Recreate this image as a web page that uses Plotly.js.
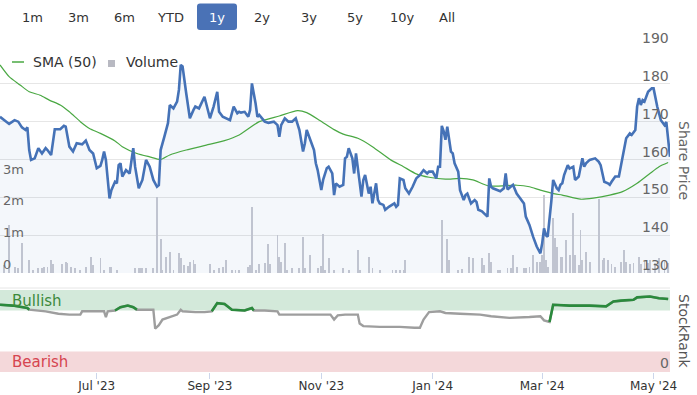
<!DOCTYPE html>
<html>
<head>
<meta charset="utf-8">
<script src="https://cdn.plot.ly/plotly-3.0.1.min.js"></script>
<style>
html,body{margin:0;padding:0;background:#fff;}
#chart{width:697px;height:395px;}
</style>
</head>
<body>
<div id="chart"></div>
<script>
// ---------- DATA ----------
const priceDates = [
"2023-05-09","2023-05-12","2023-05-14","2023-05-17","2023-05-19","2023-05-21","2023-05-23","2023-05-24","2023-05-25","2023-05-26","2023-05-28","2023-05-30",
"2023-06-01","2023-06-03","2023-06-04","2023-06-06","2023-06-08","2023-06-11","2023-06-13","2023-06-14","2023-06-16","2023-06-18","2023-06-20","2023-06-23","2023-06-25","2023-06-27","2023-06-29",
"2023-07-01","2023-07-03","2023-07-04","2023-07-05","2023-07-06","2023-07-08","2023-07-09","2023-07-10","2023-07-11","2023-07-12","2023-07-13","2023-07-14","2023-07-15","2023-07-17","2023-07-19","2023-07-21","2023-07-22","2023-07-24","2023-07-25","2023-07-26","2023-07-28","2023-07-30",
"2023-08-01","2023-08-03","2023-08-04","2023-08-05","2023-08-07","2023-08-09","2023-08-10","2023-08-12","2023-08-14","2023-08-15","2023-08-16","2023-08-17","2023-08-19","2023-08-21","2023-08-23","2023-08-24","2023-08-26","2023-08-28","2023-08-29",
"2023-09-01","2023-09-03","2023-09-05","2023-09-06","2023-09-08","2023-09-10","2023-09-12","2023-09-14","2023-09-16","2023-09-17","2023-09-18","2023-09-20","2023-09-22","2023-09-23","2023-09-24","2023-09-26","2023-09-27","2023-09-28","2023-09-30",
"2023-10-01","2023-10-03","2023-10-06","2023-10-08","2023-10-09","2023-10-10","2023-10-12","2023-10-14","2023-10-16","2023-10-18","2023-10-20","2023-10-22","2023-10-23","2023-10-24","2023-10-26","2023-10-28","2023-10-29","2023-10-30",
"2023-11-01","2023-11-02","2023-11-04","2023-11-05","2023-11-07","2023-11-08","2023-11-09","2023-11-11","2023-11-13","2023-11-14","2023-11-15","2023-11-16","2023-11-18","2023-11-19","2023-11-20","2023-11-22","2023-11-23","2023-11-24","2023-11-25","2023-11-27","2023-11-28","2023-11-29","2023-11-30",
"2023-12-01","2023-12-02","2023-12-03","2023-12-05","2023-12-06","2023-12-08","2023-12-10","2023-12-11","2023-12-12","2023-12-13","2023-12-14","2023-12-16","2023-12-17","2023-12-19","2023-12-21","2023-12-23","2023-12-25","2023-12-27","2023-12-29","2023-12-30",
"2024-01-01","2024-01-03","2024-01-04","2024-01-05","2024-01-06","2024-01-07","2024-01-08","2024-01-09","2024-01-11","2024-01-12","2024-01-13","2024-01-15","2024-01-16","2024-01-18","2024-01-19","2024-01-20","2024-01-22","2024-01-24","2024-01-25","2024-01-26","2024-01-28","2024-01-30","2024-01-31",
"2024-02-01","2024-02-02","2024-02-03","2024-02-05","2024-02-07","2024-02-09","2024-02-10","2024-02-11","2024-02-13","2024-02-14","2024-02-16","2024-02-18","2024-02-20","2024-02-21","2024-02-23","2024-02-25","2024-02-27","2024-02-29",
"2024-03-01","2024-03-02","2024-03-03","2024-03-04","2024-03-05","2024-03-06","2024-03-07","2024-03-09","2024-03-10","2024-03-11","2024-03-12","2024-03-13","2024-03-15","2024-03-16","2024-03-18","2024-03-19","2024-03-21","2024-03-22","2024-03-23","2024-03-24","2024-03-25","2024-03-27","2024-03-30",
"2024-04-01","2024-04-02","2024-04-03","2024-04-04","2024-04-06","2024-04-07","2024-04-08","2024-04-10","2024-04-12","2024-04-13","2024-04-14","2024-04-15","2024-04-16","2024-04-18","2024-04-19","2024-04-21","2024-04-22","2024-04-23","2024-04-24","2024-04-25","2024-04-26","2024-04-28","2024-04-30",
"2024-05-01","2024-05-02","2024-05-03","2024-05-05","2024-05-07","2024-05-08","2024-05-09","2024-05-10"
];
const priceClose = [
171.3,170.0,169.4,170.4,170.0,168.5,167.8,168.5,162.5,159.9,160.3,163.0,
161.6,163.0,162.5,161.2,168.0,168.0,168.9,168.7,163.4,162.1,164.3,164.0,165.0,162.5,161.6,
157.7,158.3,159.9,162.1,159.9,149.7,151.9,152.8,154.1,153.7,158.5,159.0,155.5,157.2,156.3,163.0,158.1,152.4,153.7,154.6,159.9,158.1,
154.6,152.8,153.2,162.5,166.0,169.6,174.4,173.5,175.3,178.4,185.0,184.6,177.5,170.9,173.1,174.0,173.5,175.7,176.6,
170.9,174.0,177.9,172.6,171.3,170.9,170.4,174.0,172.2,172.6,172.4,172.6,171.3,173.1,180.1,174.8,171.3,171.8,170.4,
170.0,169.7,170.0,169.1,166.0,169.1,170.9,170.0,170.0,170.9,167.8,162.1,164.3,167.8,165.2,162.5,159.0,157.2,
151.9,154.6,157.7,158.1,156.3,150.6,153.7,152.8,153.3,160.3,160.7,163.0,160.3,156.3,161.6,153.7,150.2,154.6,155.9,151.0,152.8,148.4,151.0,
153.7,149.3,148.4,148.0,146.7,147.5,148.0,148.4,147.5,148.0,155.0,154.6,152.4,151.0,152.8,155.0,155.9,157.2,156.3,156.8,
156.8,155.0,158.1,158.1,168.9,167.5,165.2,168.7,162.1,161.6,159.0,156.8,151.9,149.3,150.6,151.0,148.4,149.3,148.8,146.7,146.3,145.3,144.9,
155.0,152.8,152.4,152.0,151.6,152.4,156.3,152.1,152.8,153.3,151.0,149.7,148.4,144.9,142.7,139.6,137.0,135.2,
137.9,141.8,140.0,139.6,144.0,149.0,154.6,152.4,151.9,153.3,153.7,155.9,158.5,157.6,158.1,154.6,155.5,157.7,160.3,158.1,159.0,159.9,160.3,
159.4,158.5,156.3,154.1,153.7,153.3,154.1,155.5,155.5,158.1,159.9,162.5,165.6,166.9,166.5,167.8,174.0,176.2,174.4,175.7,175.3,177.9,178.8,
178.8,176.2,174.0,170.4,169.1,169.9,165.2,160.7
];

const smaDates = [
"2023-05-09","2023-05-14","2023-05-20","2023-05-25","2023-05-31","2023-06-05","2023-06-11","2023-06-16","2023-06-22","2023-06-27",
"2023-07-03","2023-07-11","2023-07-15","2023-07-23","2023-07-30","2023-08-05","2023-08-10","2023-08-19","2023-08-30","2023-09-09",
"2023-09-17","2023-09-28","2023-10-09","2023-10-19","2023-10-24","2023-10-31","2023-11-08","2023-11-13","2023-11-21","2023-11-29",
"2023-12-09","2023-12-16","2023-12-23","2023-12-30","2024-01-08","2024-01-16","2024-01-23","2024-02-01","2024-02-16","2024-02-23",
"2024-02-29","2024-03-08","2024-03-12","2024-03-22","2024-03-29","2024-04-07","2024-04-14","2024-04-22","2024-04-29","2024-05-04","2024-05-09"
];
const smaValues = [
185.0,181.9,179.7,177.9,177.0,175.7,174.4,172.6,170.0,168.2,
166.9,164.9,163.4,161.6,160.7,160.0,161.2,162.5,163.8,165.0,
166.5,170.0,171.5,172.9,172.4,170.4,167.9,166.7,165.6,163.4,
159.9,158.1,156.2,155.3,154.8,155.0,154.6,153.0,153.2,152.8,
151.9,150.9,150.6,149.5,149.8,150.6,151.5,153.7,156.3,158.1,159.2
];

// volume in millions
const volDates = [
"2023-05-11","2023-05-14","2023-05-17","2023-05-19","2023-05-21","2023-05-25","2023-05-27","2023-05-30","2023-06-01","2023-06-02",
"2023-06-04","2023-06-06","2023-06-07","2023-06-12","2023-06-14","2023-06-15","2023-06-17","2023-06-19","2023-06-22","2023-06-25",
"2023-06-28","2023-06-29","2023-07-03","2023-07-05","2023-07-08","2023-07-09","2023-07-12","2023-07-22","2023-07-24","2023-07-25",
"2023-07-26","2023-07-28","2023-08-01","2023-08-03","2023-08-05","2023-08-06","2023-08-08","2023-08-10","2023-08-12","2023-08-15",
"2023-08-16","2023-08-18","2023-08-20","2023-08-21","2023-08-23","2023-08-24","2023-09-01","2023-09-03","2023-09-06","2023-09-08",
"2023-09-10","2023-09-13","2023-09-15","2023-09-17","2023-09-22","2023-09-23","2023-09-24","2023-09-26","2023-09-28","2023-10-01",
"2023-10-03","2023-10-04","2023-10-08","2023-10-09","2023-10-10","2023-10-12","2023-10-13","2023-10-16","2023-10-20","2023-10-22",
"2023-10-23","2023-10-26","2023-10-30","2023-11-01","2023-11-02","2023-11-03","2023-11-05","2023-11-08","2023-11-13","2023-11-16",
"2023-11-21","2023-11-22","2023-11-27","2023-11-29","2023-12-03","2023-12-10","2023-12-12","2023-12-14","2023-12-16","2023-12-17",
"2024-01-06","2024-01-09","2024-01-10","2024-01-15","2024-01-17","2024-01-21","2024-01-23","2024-01-28","2024-01-29","2024-02-01",
"2024-02-02","2024-02-06","2024-02-07","2024-02-11","2024-02-13","2024-02-14","2024-02-16","2024-02-20","2024-02-21","2024-02-23",
"2024-02-25","2024-02-27","2024-02-29","2024-03-01","2024-03-02","2024-03-03","2024-03-04","2024-03-07","2024-03-08","2024-03-09",
"2024-03-11","2024-03-12","2024-03-14","2024-03-16","2024-03-18","2024-03-19","2024-03-21","2024-03-22","2024-03-23","2024-03-25",
"2024-03-27","2024-04-01","2024-04-03","2024-04-04","2024-04-06","2024-04-08","2024-04-10","2024-04-13","2024-04-15","2024-04-16",
"2024-04-18","2024-04-20","2024-04-23","2024-04-24","2024-04-26","2024-04-28","2024-04-29","2024-05-02","2024-05-04","2024-05-07","2024-05-09"
];
const volValues = [
0.25,1.52,0.2,0.15,0.96,0.41,0.1,0.15,0.15,0.2,
0.2,0.41,0.3,0.3,0.36,0.33,0.2,0.15,0.1,0.2,
0.52,0.25,0.47,0.1,0.2,0.2,0.1,0.15,0.15,0.15,
0.15,0.15,0.15,2.42,1.07,0.1,0.52,0.68,0.1,0.62,
0.47,0.25,0.22,0.36,0.41,0.3,0.29,0.1,0.15,0.2,
0.41,0.1,0.1,0.1,0.2,0.25,2.1,0.1,0.3,0.33,
0.92,0.3,1.2,0.5,0.36,0.96,0.1,0.15,0.15,1.15,
0.15,0.57,0.15,0.22,1.24,0.1,0.47,0.1,0.15,0.1,
0.73,0.1,0.52,0.15,0.1,0.1,0.1,0.1,0.1,0.41,
1.68,1.08,0.41,0.1,0.12,0.52,0.47,0.47,0.25,0.62,
0.36,0.1,0.1,0.15,0.15,0.57,0.2,0.17,0.17,0.2,
0.57,0.36,0.36,0.57,2.47,0.41,0.2,1.74,1.1,0.84,
0.52,0.52,1.05,0.57,1.9,0.57,0.25,1.37,0.41,0.68,
0.36,2.34,0.41,0.47,0.41,0.3,0.2,0.36,0.73,0.36,
0.3,0.33,0.52,0.3,0.36,0.33,0.41,0.33,0.47,0.41,0.33
];

const rankDates = [
"2023-05-09","2023-05-16","2023-05-24","2023-05-25","2023-06-03","2023-06-10","2023-06-16","2023-06-22","2023-06-23","2023-06-30",
"2023-07-05","2023-07-06","2023-07-07","2023-07-11","2023-07-14","2023-07-18","2023-07-21","2023-07-23","2023-07-27","2023-08-01",
"2023-08-02","2023-08-04","2023-08-06","2023-08-10","2023-08-14","2023-08-16","2023-08-17","2023-08-24","2023-08-29","2023-09-02",
"2023-09-04","2023-09-05","2023-09-09","2023-09-11","2023-09-13","2023-09-20","2023-09-24","2023-09-25","2023-10-01","2023-10-08",
"2023-10-09","2023-10-20","2023-11-06","2023-11-08","2023-11-10","2023-11-14","2023-11-21","2023-11-22","2023-11-24","2023-12-03",
"2023-12-14","2023-12-22","2023-12-25","2023-12-27","2023-12-30","2024-01-05","2024-01-08","2024-01-16","2024-01-27","2024-02-02",
"2024-02-12","2024-02-23","2024-02-29","2024-03-02","2024-03-05","2024-03-07","2024-03-16","2024-03-27","2024-04-05","2024-04-09",
"2024-04-13","2024-04-20","2024-04-22","2024-04-29","2024-05-04","2024-05-09"
];
const rankValues = [
82,81,78,76,74,71,70,70,74,74,
74,67,74,75,79,81,79,76,76,76,
53,57,64,67,70,76,74,73,73,74,
81,84,83,80,76,75,78,75,75,74,
70,70,70,64,69,70,70,59,56,55,
55,54,54,64,73,74,72,71,70,68,
66,67,68,63,61,82,81,81,80,86,
87,88,91,92,90,89
];

const priceTicks = [130,140,150,160,170,180,190];
const volTicks = [0,1,2,3];
const volTickText = ["0","1m","2m","3m"];
const rankTicks = [0];
const rangeButtons = ["1m","3m","6m","YTD","1y","2y","3y","5y","10y","All"];
const activeRange = "1y";

// ---------- LAYOUT HELPERS (pixel -> paper) ----------
const PL = 0, PR = 670, PT = 46, PB = 372;
const X = px => (px - PL) / (PR - PL);
const Y = py => (PB - py) / (PB - PT);
const btnX = [32, 78, 124, 170, 217, 262, 309, 355, 402, 447];

const bullishCut = 77;
const rankGreen = rankValues.map((v, i) =>
  (v >= bullishCut || rankValues[i-1] >= bullishCut || rankValues[i+1] >= bullishCut) ? v : null);

const traces = [
  {type:"bar", x:volDates, y:volValues, xaxis:"x", yaxis:"y",
   width:86400000*1.0, marker:{color:"#c8c9d2", line:{width:0}}, hoverinfo:"skip"},
  {type:"scatter", mode:"lines", x:priceDates, y:priceClose, xaxis:"x", yaxis:"y2",
   line:{width:0, color:"rgba(0,0,0,0)"}, fill:"tozeroy", fillcolor:"rgba(70,116,185,0.06)", hoverinfo:"skip"},
  {type:"scatter", mode:"lines", x:smaDates, y:smaValues, xaxis:"x", yaxis:"y2",
   line:{width:1.2, color:"#4aa843", shape:"spline", smoothing:0.6}, hoverinfo:"skip"},
  {type:"scatter", mode:"lines", x:priceDates, y:priceClose, xaxis:"x", yaxis:"y2",
   line:{width:2.6, color:"#4572b7"}, hoverinfo:"skip"},
  {type:"scatter", mode:"lines", x:rankDates, y:rankValues, xaxis:"x", yaxis:"y3",
   line:{width:2.4, color:"#9e9e9e"}, hoverinfo:"skip"},
  {type:"scatter", mode:"lines", x:rankDates, y:rankGreen, xaxis:"x", yaxis:"y3",
   line:{width:2.6, color:"#2a8a3c"}, connectgaps:false, hoverinfo:"skip"}
];

const shapes = [
  {type:"rect", xref:"paper", yref:"y3", x0:0, x1:1, y0:75, y1:100, fillcolor:"#d3e9da", line:{width:0}, layer:"below"},
  {type:"rect", xref:"paper", yref:"y3", x0:0, x1:1, y0:0, y1:25, fillcolor:"#f4d8da", line:{width:0}, layer:"below"},
  {type:"line", xref:"paper", yref:"paper", x0:0, x1:1, y0:Y(288), y1:Y(288), line:{color:"#e6e6e6", width:1}},
  // legend symbols
  {type:"line", xref:"paper", yref:"paper", x0:X(12), x1:X(24), y0:Y(62), y1:Y(62), line:{color:"#4aa843", width:1.5}},
  {type:"rect", xref:"paper", yref:"paper", x0:X(108), x1:X(115), y0:Y(67), y1:Y(60), fillcolor:"#b8b9c2", line:{width:0}}
];
// rounded active button
(function(){
  const x0 = X(197), x1 = X(237), y0 = Y(30), y1 = Y(3.5);
  const rx = 3/(PR-PL), ry = 3/(PB-PT);
  const p = `M ${x0+rx},${y1} L ${x1-rx},${y1} Q ${x1},${y1} ${x1},${y1-ry} L ${x1},${y0+ry} Q ${x1},${y0} ${x1-rx},${y0} L ${x0+rx},${y0} Q ${x0},${y0} ${x0},${y0+ry} L ${x0},${y1-ry} Q ${x0},${y1} ${x0+rx},${y1} Z`;
  shapes.push({type:"path", xref:"paper", yref:"paper", path:p, fillcolor:"#4a72b6", line:{width:0}});
})();

const annotations = [
  {text:"SMA (50)", x:X(31), y:Y(62), xref:"paper", yref:"paper", xanchor:"left", yanchor:"middle", showarrow:false, font:{size:14, color:"#333"}},
  {text:"Volume", x:X(124), y:Y(62), xref:"paper", yref:"paper", xanchor:"left", yanchor:"middle", showarrow:false, font:{size:14, color:"#333"}},
  {text:"Share Price", x:X(684), y:Y(160), xref:"paper", yref:"paper", xanchor:"center", yanchor:"middle", textangle:90, showarrow:false, font:{size:14, color:"#666"}},
  {text:"StockRank", x:X(684), y:Y(331), xref:"paper", yref:"paper", xanchor:"center", yanchor:"middle", textangle:90, showarrow:false, font:{size:14, color:"#555"}},
  {text:"Bullish", x:X(10), y:Y(301), xref:"paper", yref:"paper", xanchor:"left", yanchor:"middle", showarrow:false, font:{size:15, color:"#3c8a3c"}},
  {text:"Bearish", x:X(10), y:Y(362), xref:"paper", yref:"paper", xanchor:"left", yanchor:"middle", showarrow:false, font:{size:15, color:"#d64550"}}
];
rangeButtons.forEach((b, i) => {
  annotations.push({text:b, x:X(btnX[i]), y:Y(17), xref:"paper", yref:"paper", xanchor:"center", yanchor:"middle",
    showarrow:false, font:{size:13, color: b === activeRange ? "#ffffff" : "#333333"}});
});
// axis tick labels (drawn inside the plot, above their grid lines)
priceTicks.forEach(v => annotations.push({text:String(v), x:1, xref:"paper", y:v, yref:"y2",
  xanchor:"right", yanchor:"middle", yshift:8, xshift:1, showarrow:false, font:{size:14, color:"#666"}}));
volTicks.forEach((v, i) => annotations.push({text:volTickText[i], x:0, xref:"paper", y:v, yref:"y",
  xanchor:"left", yanchor:"middle", yshift:9, xshift:1, showarrow:false, font:{size:13, color:"#666"}}));
rankTicks.forEach(v => annotations.push({text:String(v), x:1, xref:"paper", y:v, yref:"y3",
  xanchor:"right", yanchor:"middle", yshift:9, xshift:1, showarrow:false, font:{size:14, color:"#666"}}));

const layout = {
  width:697, height:395,
  margin:{l:PL, r:697-PR, t:PT, b:395-PB, pad:0},
  paper_bgcolor:"#ffffff", plot_bgcolor:"#ffffff",
  font:{family:"DejaVu Sans, sans-serif", size:12, color:"#333"},
  showlegend:false, hovermode:false, bargap:0,
  xaxis:{type:"date", range:["2023-05-09","2024-05-10"], domain:[0,1], anchor:"y3",
    tick0:"2023-07-01", dtick:"M2", tickformat:"%b '%y", ticks:"outside", ticklen:6, tickcolor:"#ccd6eb",
    ticklabelstandoff:-3,
    showgrid:false, zeroline:false, showline:false, tickfont:{size:12, color:"#333"}},
  yaxis:{domain:[Y(273),1], range:[0,7.2], showticklabels:false, ticks:"",
    showgrid:false, zeroline:false, showline:false},
  yaxis2:{overlaying:"y", side:"right", range:[130,190], dtick:10, tick0:130,
    showticklabels:false, ticks:"",
    showgrid:true, gridcolor:"#e6e6e6", gridwidth:1, zeroline:false, showline:false},
  yaxis3:{domain:[0,Y(290)], range:[0,100], side:"right", showticklabels:false, ticks:"",
    showgrid:false, zeroline:false, showline:false},
  shapes:shapes,
  annotations:annotations
};

Plotly.newPlot("chart", traces, layout, {staticPlot:true, displayModeBar:false});
</script>
</body>
</html>
